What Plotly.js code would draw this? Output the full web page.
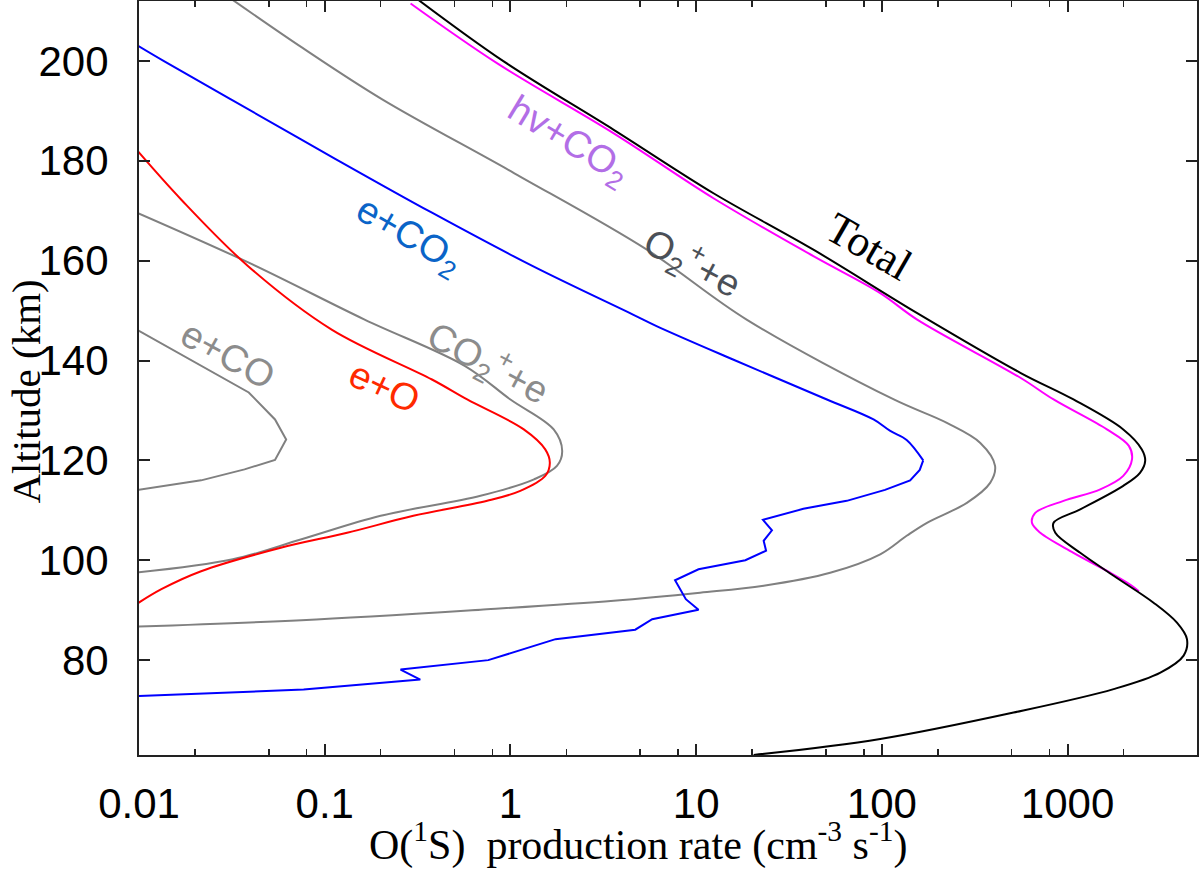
<!DOCTYPE html>
<html>
<head>
<meta charset="utf-8">
<script src="https://cdn.plot.ly/plotly-3.0.1.min.js"></script>
<style>
  html, body { margin: 0; padding: 0; background: #fff; }
  #chart { width: 1200px; height: 870px; }
</style>
</head>
<body>
<div id="chart"></div>
<script>
// O(1S) production rate profiles (cm-3 s-1) vs altitude (km)

const totalRate = [0.32, 0.92, 3.6, 12.4, 42.8, 155, 560, 1076, 1995, 2512, 2618, 2455, 1995, 1170, 841, 859, 1170, 1770, 2904, 3882, 4395, 4217, 3162, 1770, 512, 98, 20.4];
const totalAlt  = [212.2, 199.9, 186.2, 173.5, 162.2, 149.5, 137.5, 132.2, 126.2, 122.2, 119.9, 117.5, 114.9, 110.2, 107.5, 105.5, 101.5, 96.9, 91.5, 87.5, 84.2, 80.9, 77.5, 74.2, 69.5, 64.2, 61.0];

const photoRate = [0.29, 0.85, 3.6, 12.4, 42.8, 98, 155, 560, 841, 1629, 2138, 2223, 1995, 1500, 951, 670, 643, 713, 1076, 1698, 2200, 2420];
const photoAlt  = [211.5, 199.5, 185.5, 172.5, 160.9, 153.5, 148.2, 136.5, 132.2, 126.2, 122.9, 120.2, 116.9, 114.2, 111.9, 109.5, 107.5, 105.5, 101.5, 97.5, 95.0, 93.8];

const o2pRate = [0.032, 0.076, 0.204, 1.05, 5.43, 18.7, 116, 224, 339, 407, 383, 287, 175, 136, 98, 52.7, 23.1, 10.5, 3.6, 0.69, 0.075, 0.008];
const o2pAlt  = [212.2, 202.6, 192.3, 177.5, 162.2, 148.2, 132.2, 127.5, 123.5, 118.9, 115.5, 111.5, 107.5, 104.9, 101.2, 97.5, 94.9, 93.5, 91.9, 90.1, 88.0, 86.6];

const co2pRate = [0.008, 0.039, 0.164, 0.57, 1.0, 1.71, 1.90, 1.78, 1.34, 0.69, 0.2, 0.075, 0.032, 0.008];
const co2pAlt  = [171.0, 159.6, 148.2, 138.9, 132.2, 126.2, 121.9, 118.9, 116.2, 112.9, 108.9, 104.2, 100.2, 97.2];

const eORate = [0.0095, 0.0169, 0.0387, 0.109, 0.378, 0.585, 1.18, 1.54, 1.63, 1.54, 1.13, 0.75, 0.30, 0.132, 0.058, 0.0216, 0.0132, 0.0095];
const eOAlt  = [182.6, 172.2, 158.9, 146.2, 136.2, 132.2, 126.2, 122.2, 119.5, 116.9, 113.9, 111.9, 108.9, 105.5, 102.5, 97.8, 94.2, 91.0];

const eCORate = [0.0095, 0.0216, 0.039, 0.054, 0.062, 0.054, 0.037, 0.0216, 0.0095];
const eCOAlt  = [146.4, 138.9, 133.6, 128.2, 124.2, 120.1, 118.2, 116.0, 114.0];

const eCO2Rate = [0.0095, 0.0137, 0.0316, 0.109, 0.378, 1.32, 4.57, 6.12, 15.8, 50.6, 90.2, 111, 136, 167, 160, 142, 104, 64.7, 37.8, 22.9, 25.6, 23.1, 23.8, 18.4, 10.3, 7.7, 8.8, 10.3, 5.8, 4.7, 1.75, 0.76, 0.256, 0.327, 0.077, 0.0095];
const eCO2Alt  = [203.4, 199.9, 192.2, 180.8, 169.6, 158.9, 149.2, 146.9, 140.2, 132.2, 128.2, 125.9, 124.1, 120.0, 118.1, 116.0, 114.1, 111.9, 110.3, 108.1, 106.0, 103.9, 101.9, 100.0, 98.2, 96.0, 92.2, 90.1, 88.2, 86.1, 84.2, 80.0, 78.1, 76.1, 74.1, 72.8];

const majorTicks = [0.01, 0.1, 1, 10, 100, 1000];
const majorLabels = ['0.01', '0.1', '1', '10', '100', '1000'];
const minorTicks = [0.02, 0.05, 0.08, 0.2, 0.5, 0.8, 2, 5, 8, 20, 50, 80, 200, 500, 800, 2000];
const altTicks = [80, 100, 120, 140, 160, 180, 200];

const SANS = 'Liberation Sans, Arial, sans-serif';
const SERIF = 'Liberation Serif, Times New Roman, serif';

function line(x, y, color, shape) {
    return {
        type: 'scatter', mode: 'lines', x: x, y: y,
        line: { color: color, width: 2, shape: shape || 'linear', smoothing: 1 },
        hoverinfo: 'skip'
    };
}

// e+CO2: smooth above the peak, jagged (linear) below it
const SPLIT = 13;

const traces = [
    line(eCORate, eCOAlt, '#808080'),
    line(co2pRate, co2pAlt, '#808080', 'spline'),
    line(eORate, eOAlt, '#ff0000', 'spline'),
    line(o2pRate, o2pAlt, '#808080', 'spline'),
    line(eCO2Rate.slice(0, SPLIT + 1), eCO2Alt.slice(0, SPLIT + 1), '#0000ff', 'spline'),
    line(eCO2Rate.slice(SPLIT), eCO2Alt.slice(SPLIT), '#0000ff'),
    line(photoRate, photoAlt, '#ff00ff', 'spline'),
    line(totalRate, totalAlt, '#000000', 'spline')
];

// curve labels; x is log10(rate) because the axis is logarithmic
function label(text, lx, alt, color, angle, font, size) {
    return {
        text: text, x: lx, y: alt, xref: 'x', yref: 'y',
        showarrow: false, textangle: angle,
        xanchor: 'center', yanchor: 'middle',
        font: { family: font || SANS, size: size || 38, color: color }
    };
}

const annotations = [
    label('hv+CO<sub>2</sub>', 0.31, 183.8, '#b26ee6', 31),
    label('e+CO<sub>2</sub>', -0.55, 164.8, '#0a64c8', 30),
    label('e+O', -0.68, 134.6, '#ff2a00', 25),
    label('e+CO', -1.52, 141.2, '#8c8c8c', 29),
    label('CO<sub>2</sub><sup>+</sup>+e', -0.12, 139.6, '#8c8c8c', 28),
    label('O<sub>2</sub><sup>+</sup>+e', 0.98, 159.6, '#4b5057', 28),
    label('Total', 1.93, 162.8, '#000000', 30, SERIF, 44),
    // axis titles placed by hand: the figure has them off-centre and tight to the labels
    {
        text: 'Altitude (km)', xref: 'paper', yref: 'paper', x: -0.1068, y: 0.482,
        xanchor: 'center', yanchor: 'middle', textangle: -90, showarrow: false,
        font: { family: SERIF, size: 41, color: '#000' }
    },
    {
        text: 'O(<sup>1</sup>S)\u00a0\u00a0production rate (cm<sup>-3</sup> s<sup>-1</sup>)',
        xref: 'paper', yref: 'paper', x: 0.4716, y: -0.1535,
        xanchor: 'center', yanchor: 'bottom', showarrow: false,
        font: { family: SERIF, size: 42, color: '#000' }
    }
];

const axisCommon = {
    showline: true, linecolor: '#222', linewidth: 2, mirror: 'allticks',
    ticks: 'inside', ticklen: 11, tickwidth: 2, tickcolor: '#222',
    showgrid: false, zeroline: false,
    tickfont: { family: SANS, size: 42, color: '#000' }
};

const layout = {
    width: 1200, height: 870,
    margin: { l: 139, r: 3, t: 1, b: 115 },
    paper_bgcolor: '#fff', plot_bgcolor: '#fff',
    showlegend: false,
    xaxis: Object.assign({}, axisCommon, {
        type: 'log', range: [-2, 3.697],
        tickmode: 'array', tickvals: majorTicks, ticktext: majorLabels,
        ticklabelstandoff: 11,
        minor: { tickmode: 'array', tickvals: minorTicks, ticks: 'inside', ticklen: 6, tickwidth: 1.5, tickcolor: '#222' }
    }),
    yaxis: Object.assign({}, axisCommon, {
        range: [61, 212],
        tickmode: 'array', tickvals: altTicks,
        ticklabelstandoff: 20
    }),
    annotations: annotations
};

Plotly.newPlot('chart', traces, layout, { displayModeBar: false, staticPlot: true });
</script>
</body>
</html>
